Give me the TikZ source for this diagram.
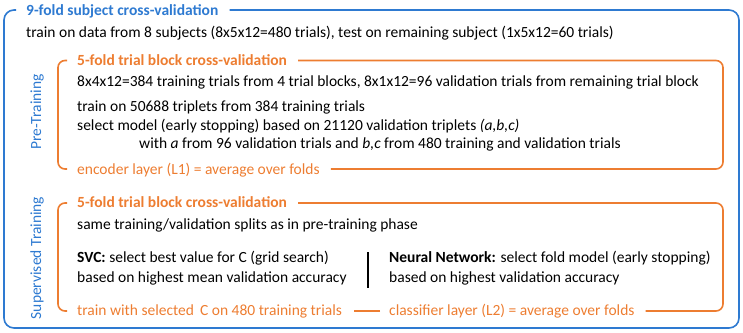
\documentclass[tikz,border=0pt]{standalone}
\usepackage{fontspec}
\setmainfont{Carlito}
\definecolor{cvblue}{RGB}{46,122,209}
\definecolor{cvorange}{RGB}{237,125,49}
\newcommand{\fsz}{\fontsize{15.5}{18}\selectfont}
\tikzset{
  bluebox/.style={draw=cvblue, line width=1.6pt, rounded corners=10pt},
  orangebox/.style={draw=cvorange, line width=1.6pt, rounded corners=7pt},
  txt/.style={anchor=base west, inner sep=0pt, font=\fsz},
  bluetitle/.style={txt, text=cvblue, font=\fsz\bfseries},
  orangetitle/.style={txt, text=cvorange, font=\fsz\bfseries},
  orangetxt/.style={txt, text=cvorange},
  sidelabel/.style={inner sep=0pt, text=cvblue, rotate=90, font=\fsz},
}
\begin{document}
\begin{tikzpicture}[x=1pt,y=-1pt]
\useasboundingbox (0,0) rectangle (743,332);
% outer
\node[bluetitle] (T0) at (26,15) {9-fold subject cross-validation};
\node[txt] (L0) at (26,37) {train on data from 8 subjects (8x5x12=480 trials), test on remaining subject (1x5x12=60 trials)};
\draw[bluebox] ([xshift=11pt]T0.east |- 0,10) -- (739,10) -- (739,328) -- (4,328) -- (4,10) -- ([xshift=-10pt]T0.west |- 0,10);
% side labels
\node[sidelabel] (S1) at (37,112) {Pre-Training};
\node[sidelabel] (S2) at (37,258) {Supervised Training};
% box 1
\node[orangetitle] (T1) at (77,65) {5-fold trial block cross-validation};
\node[txt] (A1) at (77,86) {8x4x12=384 training trials from 4 trial blocks, 8x1x12=96 validation trials from remaining trial block};
\node[txt] (A2) at (77,111) {train on 50688 triplets from 384 training trials};
\node[txt] (A3) at (77,130) {select model (early stopping) based on 21120 validation triplets \textit{(a,b,c)}};
\node[txt] (A4) at (139,148) {with \textit{a} from 96 validation trials and \textit{b,c} from 480 training and validation trials};
\node[orangetxt] (B1) at (77,174) {encoder layer (L1) = average over folds};
\draw[orangebox] ([xshift=11pt]T1.east |- 0,60.5) -- (723,60.5) -- (723,169) -- ([xshift=11pt]B1.east |- 0,169);
\draw[orangebox] ([xshift=-10pt]B1.west |- 0,169) -- (58,169) -- (58,60.5) -- ([xshift=-10pt]T1.west |- 0,60.5);
% box 2
\node[orangetitle] (T2) at (77,207) {5-fold trial block cross-validation};
\node[txt] (C1) at (77,229) {same training/validation splits as in pre-training phase};
\node[txt] (C2) at (77,262) {\textbf{SVC:} select best value for C (grid search)};
\node[txt] (C3) at (77,282) {based on highest mean validation accuracy};
\node[txt] (N1) at (389,262) {\textbf{Neural Network:} select fold model (early stopping)};
\node[txt] (N2) at (389,282) {based on highest validation accuracy};
\coordinate (V1) at (368,252);
\coordinate (V2) at (368,288);
\draw[line width=1.5pt] (V1) -- (V2);
\node[orangetxt] (B2) at (77,315) {train with selected\, C on 480 training trials};
\node[orangetxt] (B3) at (389,315) {classifier layer (L2) = average over folds};
\draw[orangebox] ([xshift=11pt]T2.east |- 0,203) -- (723,203) -- (723,311) -- ([xshift=11pt]B3.east |- 0,311);
\draw[orangebox] ([xshift=-9pt]B3.west |- 0,311) -- ([xshift=12pt]B2.east |- 0,311);
\draw[orangebox] ([xshift=-10pt]B2.west |- 0,311) -- (58,311) -- (58,203) -- ([xshift=-10pt]T2.west |- 0,203);
\end{tikzpicture}
\end{document}
